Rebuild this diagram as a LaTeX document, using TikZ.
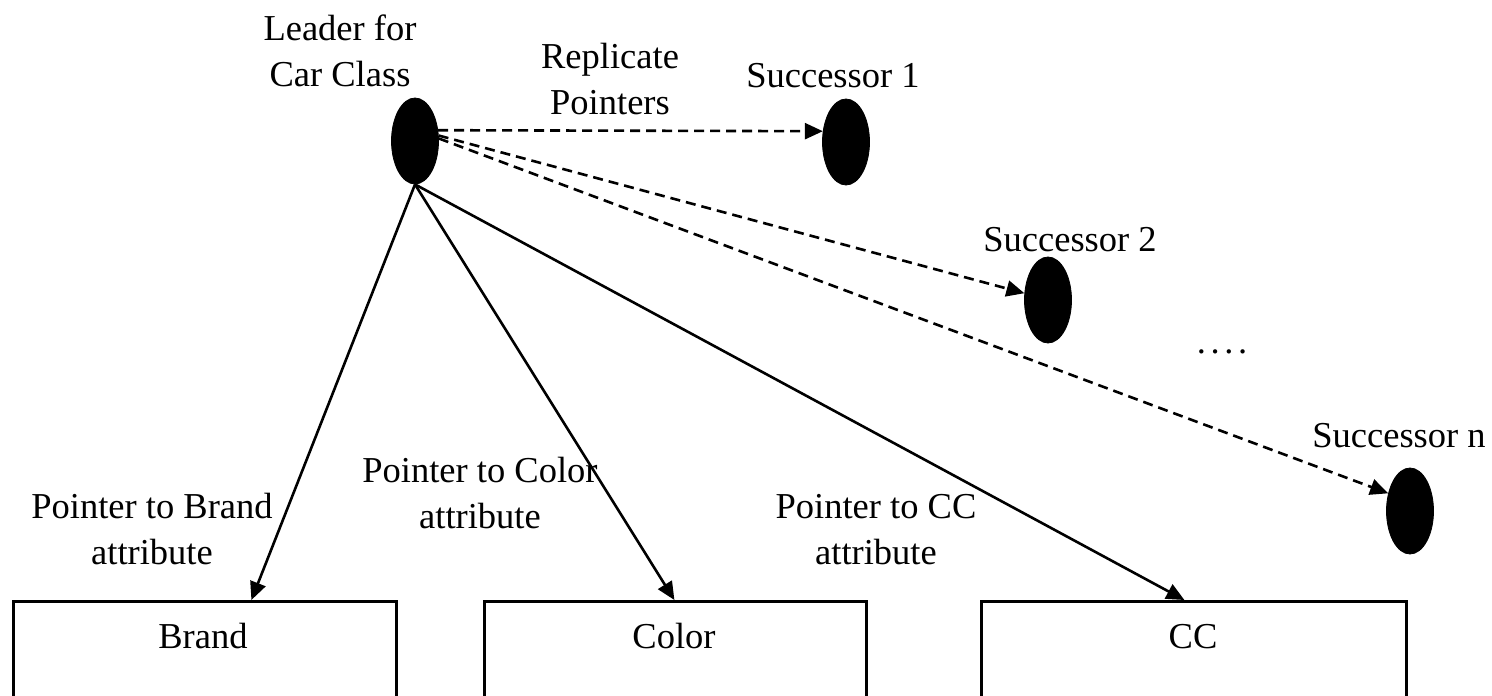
\documentclass[tikz,border=0pt]{standalone}
\usepackage{fontspec}
\setmainfont{Liberation Serif}
\usetikzlibrary{arrows.meta,shapes.geometric}

\begin{document}
\begin{tikzpicture}[x=1pt,y=-1pt,
  txt/.style={font=\fontsize{36.5}{46}\selectfont, inner sep=0pt, align=center, anchor=base},
  blob/.style={ellipse, fill=black, draw=black, line width=0.8pt, inner sep=0pt,
               minimum width=47pt, minimum height=86pt},
  attrbox/.style={rectangle, draw=black, line width=2.8pt, inner sep=0pt,
                  anchor=north west, minimum height=160pt},
  ptr/.style={line width=2.6pt, -{Triangle[length=18pt,width=16pt]}},
  repl/.style={ptr, dash pattern=on 10pt off 6pt}
]
\useasboundingbox (0,0) rectangle (1492,696);
\clip (0,0) rectangle (1492,696);

% leader and its successors
\node[blob] (leader) at (415,141) {};
\node[blob] (succ1)  at (846,142) {};
\node[blob] (succ2)  at (1048,300) {};
\node[blob] (succn)  at (1410,511) {};

% attribute boxes (open towards the bottom edge)
\node[attrbox, minimum width=383pt] (brand) at (12,600) {};
\node[attrbox, minimum width=382pt] (color) at (483,600) {};
\node[attrbox, minimum width=425pt] (cc)    at (980,600) {};
\node[txt] (brandtxt) at (203,648) {Brand};
\node[txt] (colortxt) at (674,648) {Color};
\node[txt] (cctxt)    at (1193,648) {CC};

% labels (a two-line label sits on the baseline of its last line)
\node[txt] (leadertxt) at (340,86) {Leader for\\Car Class};
\node[txt] (repltxt)   at (610,114) {Replicate\\Pointers};
\node[txt] (s1txt)     at (833,87) {Successor 1};
\node[txt] (s2txt)     at (1070,251) {Successor 2};
\node[txt] (dotstxt)   at (1222,353) {.\kern4.6pt.\kern4.6pt.\kern4.6pt.};
\node[txt] (sntxt)     at (1399,447) {Successor n};
\node[txt] (pbtxt)     at (152,564) {Pointer to Brand\\attribute};
\node[txt] (pctxt)     at (480,528) {Pointer to Color\\attribute};
\node[txt] (pcctxt)    at (876,564) {Pointer to CC\\attribute};

% replicate pointers
\draw[repl] (leader.25) -- (succ1.155);
\draw[repl] (leader.13) -- (succ2.164);
\draw[repl] (leader.6)  -- (succn.141);

% attribute pointers
\draw[ptr] (leader.south) -- ([xshift=46.5pt]brand.north);
\draw[ptr] (leader.south) -- ([xshift=-1pt]color.north);
\draw[ptr] (leader.south) -- ([xshift=-9.5pt]cc.north);
\end{tikzpicture}
\end{document}
